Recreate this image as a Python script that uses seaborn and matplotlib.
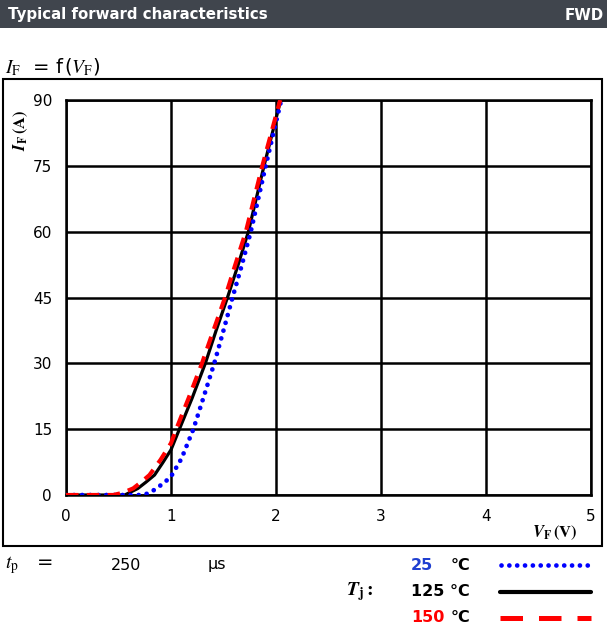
import matplotlib
matplotlib.use("Agg")
import matplotlib.pyplot as plt
import seaborn as sns
import pandas as pd
from matplotlib.lines import Line2D
from matplotlib.patches import Rectangle

# ---- data ----
vf_25 = [0, 0.5, 0.73, 0.8, 0.86, 0.93, 1.0, 1.1, 1.213, 1.3, 1.412, 1.5, 1.586, 1.67, 1.76, 1.902, 2.05]
if_25 = [0, 0, 0, 0.5, 1.5, 2.7, 4.2, 8.3, 15, 21.5, 30, 37.5, 45, 52, 60, 75, 90]

vf_125 = [0, 0.3, 0.56, 0.685, 0.76, 0.843, 0.92, 1.0, 1.08, 1.2, 1.327, 1.43, 1.538, 1.64, 1.737, 1.886, 2.045]
if_125 = [0, 0, 0, 1.5, 2.9, 4.55, 7.3, 10.3, 15, 22, 30, 37.5, 45, 52.5, 60, 75, 90]

vf_150 = [0, 0.3, 0.45, 0.54, 0.64, 0.72, 0.795, 0.9, 1.0, 1.05, 1.17, 1.295, 1.4, 1.515, 1.61, 1.713, 1.87, 2.04]
if_150 = [0, 0, 0, 0.5, 1.5, 3, 4.55, 8.0, 11.8, 15, 22.2, 30, 37.2, 45, 52.3, 60, 75, 90]

x_ticks = [0, 1, 2, 3, 4, 5]
y_ticks = [0, 15, 30, 45, 60, 75, 90]

sns.set_style("white")
plt.rcParams['font.family'] = ['DejaVu Sans']
plt.rcParams['mathtext.fontset'] = 'stix'
plt.rcParams['text.color'] = 'black'
plt.rcParams['xtick.color'] = 'black'
plt.rcParams['ytick.color'] = 'black'

W, H = 607, 626
fig = plt.figure(figsize=(W / 100, H / 100), dpi=100)

def fx(px):
    return px / W

def fy(py):
    return 1 - py / H

# header bar
fig.add_artist(Rectangle((0, fy(28)), 1, 28 / H, transform=fig.transFigure,
                         facecolor='#40454d', edgecolor='none'))
fig.text(fx(8), fy(15), "Typical forward characteristics", color='white',
         fontsize=10.8, fontweight='bold', va='center', ha='left')
fig.text(fx(604), fy(15), "FWD", color='white', fontsize=10.8,
         fontweight='bold', va='center', ha='right')

# formula
fig.text(fx(5), fy(67), r"$I_\mathrm{F}$  = f$\,$($V_\mathrm{F}$)", fontsize=14,
         va='center', ha='left')

# outer box
fig.add_artist(Rectangle((fx(3), fy(546)), fx(602) - fx(3), (546 - 79) / H,
                         transform=fig.transFigure, fill=False,
                         edgecolor='black', linewidth=1.5))

ax = fig.add_axes([fx(66), fy(495), (591 - 66) / W, (495 - 100) / H])

df25 = pd.DataFrame({"VF": vf_25, "IF": if_25})
df125 = pd.DataFrame({"VF": vf_125, "IF": if_125})
df150 = pd.DataFrame({"VF": vf_150, "IF": if_150})

sns.lineplot(data=df125, x="VF", y="IF", ax=ax, color='black', linewidth=2.3,
             sort=False, zorder=3)
sns.lineplot(data=df25, x="VF", y="IF", ax=ax, color='#0000ff', linewidth=3.4,
             linestyle=(0, (0.01, 1.7)), dash_capstyle='round', sort=False, zorder=4)
sns.lineplot(data=df150, x="VF", y="IF", ax=ax, color='#ff0000', linewidth=3.0,
             linestyle=(0, (3.0, 2.0)), sort=False, zorder=5)

ax.set_xlim(0, 5)
ax.set_ylim(0, 90)
ax.set_xticks(x_ticks)
ax.set_yticks(y_ticks)
ax.set_xticklabels([str(t) for t in x_ticks], fontsize=11)
ax.set_yticklabels([str(t) for t in y_ticks], fontsize=11)
ax.tick_params(length=0, pad=10, colors='black')
ax.grid(True, color='black', linewidth=1.8)
for s in ax.spines.values():
    s.set_color('black')
    s.set_linewidth(1.8)
ax.set_xlabel("")
ax.set_ylabel("")

# axis labels
fig.text(fx(21), fy(130), r"$\boldsymbol{I}_\mathbf{F}\,\mathbf{(A)}$", rotation=90,
         fontsize=12, va='center', ha='center')
fig.text(fx(555), fy(533), r"$\boldsymbol{V}_\mathbf{F}\,\mathbf{(V)}$",
         fontsize=12, va='center', ha='center')

# legend / conditions block
fig.text(fx(5), fy(565), r"$t_\mathrm{p}$   =", fontsize=14, va='center', ha='left')
fig.text(fx(126), fy(565), "250", fontsize=11.5, va='center', ha='center')
fig.text(fx(208), fy(565), "µs", fontsize=11.5, va='center', ha='left')
fig.text(fx(346), fy(592), r"$\boldsymbol{T}_\mathbf{j}\mathbf{:}$", fontsize=14,
         va='center', ha='left')

fig.text(fx(411), fy(565), "25", color='#1f3fd0', fontsize=11.5, fontweight='bold',
         va='center', ha='left')
fig.text(fx(451), fy(565), "°C", color='black', fontsize=11.5, fontweight='bold',
         va='center', ha='left')
fig.text(fx(411), fy(592), "125 °C", color='black', fontsize=11.5, fontweight='bold',
         va='center', ha='left')
fig.text(fx(411), fy(618), "150", color='#ff0000', fontsize=11.5, fontweight='bold',
         va='center', ha='left')
fig.text(fx(451), fy(618), "°C", color='black', fontsize=11.5, fontweight='bold',
         va='center', ha='left')

fig.add_artist(Line2D([fx(501), fx(590)], [fy(565), fy(565)], transform=fig.transFigure,
                      color='#0000ff', linewidth=3.4, linestyle=(0, (0.01, 1.65)),
                      dash_capstyle='round'))
fig.add_artist(Line2D([fx(500), fx(591)], [fy(592), fy(592)], transform=fig.transFigure,
                      color='black', linewidth=3.0))
fig.add_artist(Line2D([fx(500), fx(591)], [fy(618), fy(618)], transform=fig.transFigure,
                      color='#ff0000', linewidth=3.6, linestyle=(0, (4.5, 3.2))))

fig.savefig("out.png", dpi=100)
